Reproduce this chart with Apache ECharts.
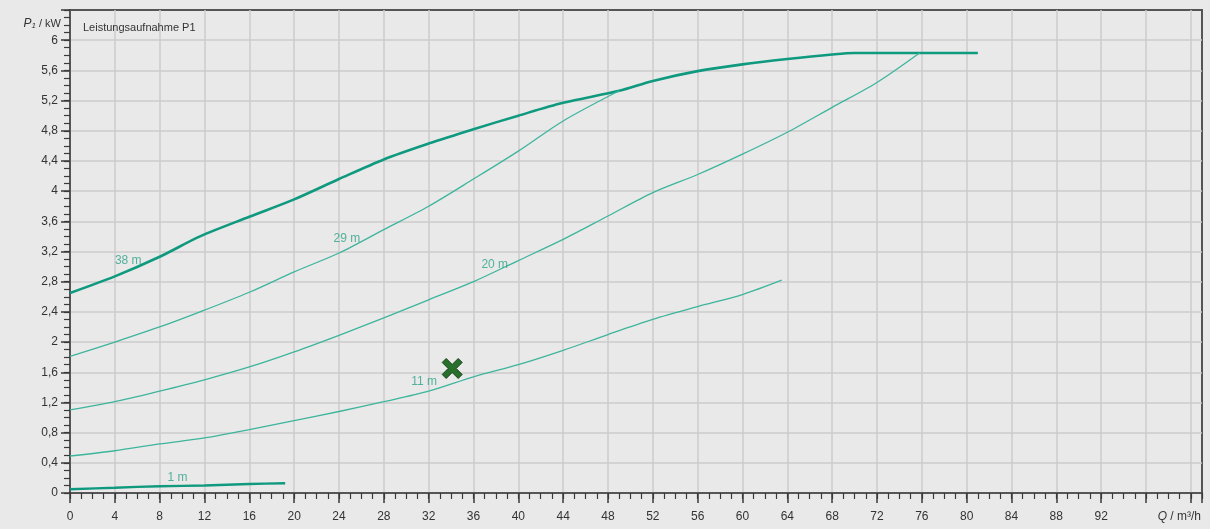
<!DOCTYPE html>
<html lang="de">
<head>
<meta charset="utf-8">
<title>Leistungsaufnahme P1</title>
<style>
  * { margin: 0; padding: 0; }
  html, body { background: #e9e9e9; }
  #chart-container { width: 1210px; height: 529px; }
</style>
</head>
<body>
<div id="chart-container"></div>
<script src="https://cdn.jsdelivr.net/npm/echarts@6/dist/echarts.min.js"></script>
<script type="text/javascript">
// Q in m3/h, P1 in kW
var q38 = [0, 4, 8, 11.6, 16, 20, 24, 28, 32, 36, 40, 44, 49, 52, 56, 60, 64, 68, 70, 76, 81];
var p38 = [2.65, 2.87, 3.13, 3.40, 3.66, 3.89, 4.16, 4.42, 4.63, 4.82, 5.00, 5.17, 5.33, 5.46, 5.59, 5.68, 5.75, 5.81, 5.83, 5.83, 5.83];

var q29 = [0, 4, 8, 11.6, 16, 20, 24, 28, 32, 36, 40, 44, 49];
var p29 = [1.81, 2.00, 2.20, 2.40, 2.66, 2.93, 3.18, 3.49, 3.80, 4.16, 4.53, 4.93, 5.33];

var q20 = [0, 4, 8, 12, 16, 20, 24, 28, 32, 36, 40, 44, 48, 52, 56, 60, 64, 68, 72, 75.8];
var p20 = [1.10, 1.21, 1.35, 1.50, 1.67, 1.87, 2.09, 2.32, 2.56, 2.80, 3.08, 3.36, 3.67, 3.98, 4.22, 4.49, 4.78, 5.11, 5.44, 5.83];

var q11 = [0, 4, 8, 12, 16, 20, 24, 28, 32, 36, 40, 44, 48, 52, 56, 60, 63.5];
var p11 = [0.49, 0.56, 0.65, 0.73, 0.84, 0.96, 1.08, 1.21, 1.35, 1.54, 1.70, 1.89, 2.10, 2.30, 2.47, 2.63, 2.82];

var q1 = [0, 4, 8, 12, 16, 19.2];
var p1 = [0.05, 0.07, 0.09, 0.10, 0.12, 0.13];

var curveNames = ['38 m', '29 m', '20 m', '11 m', '1 m'];
var labelQ = [5.2, 24.7, 37.9, 31.6, 9.6];
var labelP = [3.08, 3.37, 3.02, 1.47, 0.20];

var opPoint = [34.1, 1.65];

var xMax = 101, xStep = 4;
var yMax = 6.4, yStep = 0.4;

function zip(a, b) {
  return a.map(function (v, i) { return [v, b[i]]; });
}

var dom = document.getElementById('chart-container');
var myChart = echarts.init(dom, null, { renderer: 'canvas' });

var font = "'Liberation Sans', Arial, sans-serif";
var thick = '#0f9a7f';
var thin = '#3db59c';

function line(name, data, color, width) {
  return {
    name: name,
    type: 'line',
    data: data,
    smooth: 0.3,
    showSymbol: false,
    symbol: 'none',
    lineStyle: { color: color, width: width },
    silent: true,
    z: 3
  };
}

var option = {
  backgroundColor: '#e9e9e9',
  animation: false,
  textStyle: { fontFamily: font },
  title: {
    text: 'Leistungsaufnahme P1',
    left: 78,
    top: 17,
    textStyle: { fontSize: 11, fontWeight: 'normal', color: '#333', fontFamily: font }
  },
  grid: {
    left: 70, right: 8, top: 10, bottom: 36,
    containLabel: false,
    outerBoundsMode: 'none',
    show: true,
    borderColor: '#555',
    borderWidth: 2,
    backgroundColor: 'transparent'
  },
  xAxis: [{
    type: 'value',
    min: 0, max: xMax, interval: xStep,
    name: '{i|Q} / m³/h',
    nameLocation: 'end',
    nameGap: 0,
    nameTextStyle: {
      align: 'right', verticalAlign: 'top', padding: [18, 1, 0, 0],
      color: '#333', fontSize: 12, fontFamily: font,
      rich: { i: { fontStyle: 'italic', fontSize: 12, color: '#333', fontFamily: font } }
    },
    axisLine: { show: true, lineStyle: { color: '#3a3a3a', width: 1.5 } },
    axisTick: { show: true, length: 10, lineStyle: { color: '#3a3a3a', width: 1.5 } },
    axisLabel: {
      margin: 18, color: '#333', fontSize: 12, fontFamily: font,
      formatter: function (v) { return (v > 92) ? '' : String(v); }
    },
    splitLine: { show: true, showMaxLine: false, lineStyle: { color: '#cbcbcb', width: 1.5 } }
  }, {
    type: 'value',
    min: 0, max: xMax, interval: 1,
    position: 'bottom',
    axisLine: { show: false },
    axisTick: { show: true, length: 6, lineStyle: { color: '#3a3a3a', width: 1.2 } },
    axisLabel: { show: false },
    splitLine: { show: false }
  }],
  yAxis: [{
    type: 'value',
    min: 0, max: yMax, interval: yStep,
    name: '{p|P}{s|1} / kW',
    nameLocation: 'end',
    nameGap: -14,
    nameTextStyle: {
      align: 'right', verticalAlign: 'middle', padding: [0, 9, 0, 0],
      color: '#333', fontSize: 11, fontFamily: font,
      rich: {
        p: { fontStyle: 'italic', fontSize: 12, color: '#333', fontFamily: font },
        s: { fontStyle: 'italic', fontSize: 8, color: '#333', verticalAlign: 'bottom', padding: [4, 0, 0, 0], fontFamily: font }
      }
    },
    axisLine: { show: true, lineStyle: { color: '#3a3a3a', width: 1.5 } },
    axisTick: { show: true, length: 9, lineStyle: { color: '#3a3a3a', width: 1.5 } },
    axisLabel: {
      margin: 12, color: '#333', fontSize: 12, fontFamily: font,
      formatter: function (v) {
        if (v > 6.01) return '';
        return String(+v.toFixed(1)).replace('.', ',');
      }
    },
    splitLine: { show: true, showMaxLine: false, lineStyle: { color: '#cbcbcb', width: 1.5 } }
  }, {
    type: 'value',
    min: 0, max: yMax, interval: 0.1,
    position: 'left',
    axisLine: { show: false },
    axisTick: { show: true, length: 6, lineStyle: { color: '#3a3a3a', width: 1.2 } },
    axisLabel: { show: false },
    splitLine: { show: false }
  }],
  series: [
    line('38 m', zip(q38, p38), thick, 2.6),
    line('29 m', zip(q29, p29), thin, 1.3),
    line('20 m', zip(q20, p20), thin, 1.3),
    line('11 m', zip(q11, p11), thin, 1.3),
    line('1 m', zip(q1, p1), thick, 2.4),
    {
      name: 'labels',
      type: 'scatter',
      symbolSize: 0,
      silent: true,
      z: 4,
      data: curveNames.map(function (n, i) { return { value: [labelQ[i], labelP[i]], name: n }; }),
      label: {
        show: true,
        position: 'inside',
        formatter: function (p) { return p.name; },
        color: '#2ba388',
        fontSize: 12,
        fontFamily: font
      }
    },
    {
      name: 'Betriebspunkt',
      type: 'scatter',
      symbol: 'path://M4,0 L10,6 L16,0 L20,4 L14,10 L20,16 L16,20 L10,14 L4,20 L0,16 L6,10 L0,4 Z',
      symbolSize: 20,
      z: 5,
      itemStyle: { color: '#286f2c', borderColor: '#17431b', borderWidth: 1, opacity: 1 },
      data: [opPoint]
    }
  ]
};

myChart.setOption(option);
window.addEventListener('resize', myChart.resize);
</script>
</body>
</html>
